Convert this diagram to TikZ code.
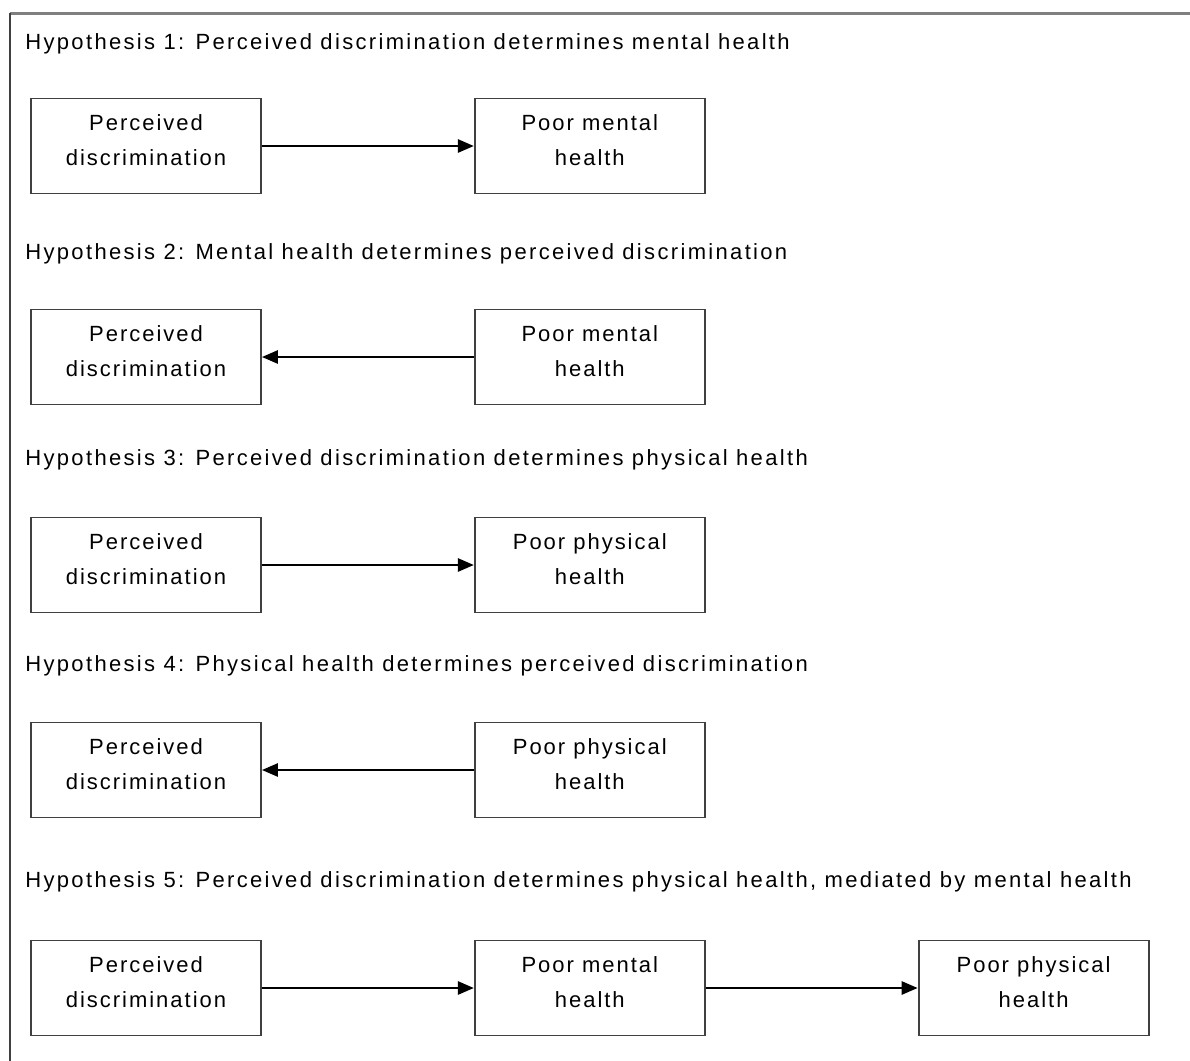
\documentclass[tikz,border=0pt]{standalone}
\usepackage{fontspec}
\setmainfont[LetterSpace=9]{Liberation Sans}
\newfontfamily\hypfont[LetterSpace=10.6]{Liberation Sans}
\usetikzlibrary{arrows.meta,positioning}
\definecolor{FrameGray}{HTML}{7F7F7F}
\definecolor{BoxGray}{HTML}{404040}

\begin{document}
\begin{tikzpicture}[
x=0.5pt,y=-0.5pt,
node distance=106pt,
hyp/.style={anchor=base west,inner sep=0pt,font=\hypfont\fontsize{11}{13}\selectfont},
box/.style={draw=BoxGray,line width=0.9pt,align=center,minimum width=115pt,minimum height=47.5pt,inner sep=0pt,text depth=6pt,font=\fontsize{11}{17.5}\selectfont},
arrow/.style={-{Triangle[length=8pt,width=6.5pt]},line width=1.3pt,draw=black}
]
\useasboundingbox (0,0) rectangle (1190,1061);

% outer frame, only top and left edge
\draw[FrameGray,line width=1.5pt] (10,13) -- (1190,13);
\draw[BoxGray,line width=1pt] (10,13) -- (10,1061);

% hypothesis 1
\node[hyp] (h1) at (25,49) {Hypothesis 1: Perceived discrimination determines mental health};
\node[box] (pd1) at (146,146) {Perceived\\discrimination};
\node[box,right=of pd1] (mh1) {Poor mental\\health};
\draw[arrow] (pd1) -- (mh1);

% hypothesis 2
\node[hyp] (h2) at (25,259) {Hypothesis 2: Mental health determines perceived discrimination};
\node[box] (pd2) at (146,357) {Perceived\\discrimination};
\node[box,right=of pd2] (mh2) {Poor mental\\health};
\draw[arrow] (mh2) -- (pd2);

% hypothesis 3
\node[hyp] (h3) at (25,465) {Hypothesis 3: Perceived discrimination determines physical health};
\node[box] (pd3) at (146,565) {Perceived\\discrimination};
\node[box,right=of pd3] (ph3) {Poor physical\\health};
\draw[arrow] (pd3) -- (ph3);

% hypothesis 4
\node[hyp] (h4) at (25,671) {Hypothesis 4: Physical health determines perceived discrimination};
\node[box] (pd4) at (146,770) {Perceived\\discrimination};
\node[box,right=of pd4] (ph4) {Poor physical\\health};
\draw[arrow] (ph4) -- (pd4);

% hypothesis 5
\node[hyp] (h5) at (25,887) {Hypothesis 5: Perceived discrimination determines physical health, mediated by mental health};
\node[box] (pd5) at (146,988) {Perceived\\discrimination};
\node[box,right=of pd5] (mh5) {Poor mental\\health};
\node[box,right=of mh5] (ph5) {Poor physical\\health};
\draw[arrow] (pd5) -- (mh5);
\draw[arrow] (mh5) -- (ph5);
\end{tikzpicture}
\end{document}
